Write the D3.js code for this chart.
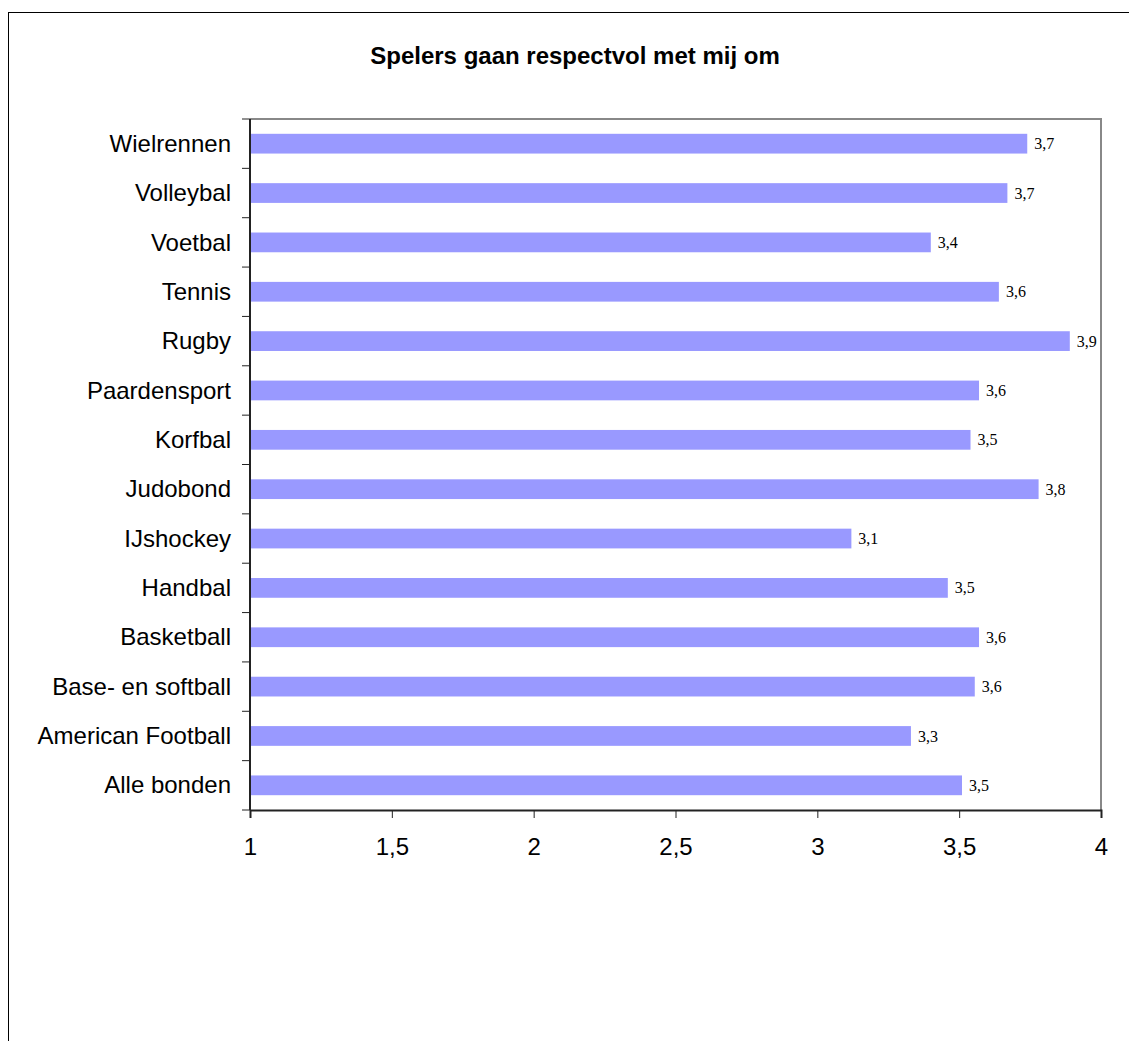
<!DOCTYPE html>
<html>
<head>
<meta charset="utf-8">
<script src="https://cdn.jsdelivr.net/npm/d3@7"></script>
<style>
  body { margin: 0; background: #fff; }
  svg { display: block; }
</style>
</head>
<body>
<script>
// categories, top to bottom as shown
let categories = ["Wielrennen", "Volleybal", "Voetbal", "Tennis", "Rugby", "Paardensport", "Korfbal",
  "Judobond", "IJshockey", "Handbal", "Basketball", "Base- en softball", "American Football", "Alle bonden"];
let scores = [3.74, 3.67, 3.40, 3.64, 3.89, 3.57, 3.54, 3.78, 3.12, 3.46, 3.57, 3.555, 3.33, 3.51];
let xTicks = [1, 1.5, 2, 2.5, 3, 3.5, 4];
let title = "Spelers gaan respectvol met mij om";

let width = 1129, height = 1041;
let margin = {top: 119, right: 1129 - 1101, bottom: 1041 - 810, left: 250};

let svg = d3.select("body").append("svg")
  .attr("width", width)
  .attr("height", height);

// chart border (runs off the right and bottom edge)
svg.append("rect")
  .attr("x", 8.5).attr("y", 12.5)
  .attr("width", width + 10).attr("height", height + 10)
  .attr("fill", "none").attr("stroke", "#000").attr("stroke-width", 1);

svg.append("text")
  .attr("x", 575).attr("y", 64)
  .attr("text-anchor", "middle")
  .style("font-family", "Liberation Sans, Arial, sans-serif")
  .style("font-weight", "bold")
  .style("font-size", "24px")
  .text(title);

let x = d3.scaleLinear()
  .domain([1, 4])
  .range([margin.left, width - margin.right]);

let y = d3.scaleBand()
  .domain(categories)
  .range([margin.top, height - margin.bottom])
  .paddingInner(0.6).paddingOuter(0.3);

// plot frame, top and right in grey
svg.append("path")
  .attr("d", `M${x(1)},${margin.top}H${x(4)}V${height - margin.bottom}`)
  .attr("fill", "none").attr("stroke", "#888").attr("stroke-width", 2);

svg.selectAll(".bar")
  .data(categories)
  .enter().append("rect")
  .attr("class", "bar")
  .attr("x", x(1))
  .attr("y", d => y(d))
  .attr("width", (d, i) => x(scores[i]) - x(1))
  .attr("height", y.bandwidth())
  .attr("fill", "#9999ff");

svg.selectAll(".val")
  .data(categories)
  .enter().append("text")
  .attr("class", "val")
  .attr("x", (d, i) => x(scores[i]) + 7)
  .attr("y", d => y(d) + y.bandwidth() / 2)
  .attr("dy", "0.35em")
  .style("font-family", "Liberation Serif, Times New Roman, serif")
  .style("font-size", "16px")
  .text((d, i) => d3.format(".1f")(scores[i]).replace(".", ","));

// y axis: ticks between categories
let step = (height - margin.bottom - margin.top) / categories.length;
let yAxis = svg.append("g");
yAxis.append("line")
  .attr("x1", x(1)).attr("x2", x(1))
  .attr("y1", margin.top).attr("y2", height - margin.bottom)
  .attr("stroke", "#222").attr("stroke-width", 2);
yAxis.selectAll(".ytick")
  .data(d3.range(categories.length + 1))
  .enter().append("line")
  .attr("x1", x(1) - 8).attr("x2", x(1))
  .attr("y1", i => margin.top + i * step).attr("y2", i => margin.top + i * step)
  .attr("stroke", "#222").attr("stroke-width", 1);
yAxis.selectAll(".ylab")
  .data(categories)
  .enter().append("text")
  .attr("x", x(1) - 19)
  .attr("y", d => y(d) + y.bandwidth() / 2)
  .attr("dy", "0.34em")
  .attr("text-anchor", "end")
  .style("font-family", "Liberation Sans, Arial, sans-serif")
  .style("font-size", "24px")
  .text(d => d);

// x axis
let xAxis = svg.append("g")
  .attr("transform", `translate(0,${height - margin.bottom})`)
  .call(d3.axisBottom(x).tickValues(xTicks).tickSize(8).tickPadding(20)
    .tickFormat(d => String(d).replace(".", ",")));
xAxis.select(".domain").attr("stroke", "#222").attr("stroke-width", 2);
xAxis.selectAll(".tick line").attr("stroke", "#222");
xAxis.selectAll(".tick text")
  .style("font-family", "Liberation Sans, Arial, sans-serif")
  .style("font-size", "24px")
  .attr("fill", "#000");
</script>
</body>
</html>
